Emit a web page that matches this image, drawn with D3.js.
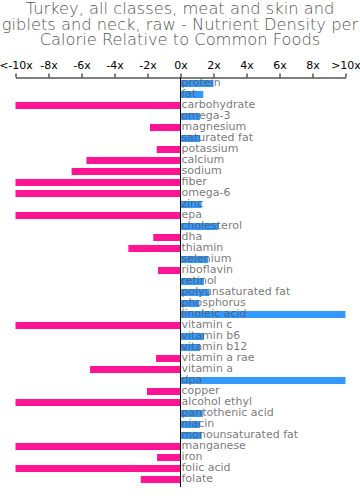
<!DOCTYPE html>
<html>
<head>
<meta charset="utf-8">
<script src="https://cdn.jsdelivr.net/npm/d3@7"></script>
<style>
  body { margin: 0; background: #fff; }
  svg { font-family: "DejaVu Sans", sans-serif; }
</style>
</head>
<body>
<script>
'use strict';

// nutrient names, top to bottom
const nutrients = ["protein", "fat", "carbohydrate", "omega-3", "magnesium", "saturated fat",
  "potassium", "calcium", "sodium", "fiber", "omega-6", "zinc", "epa", "cholesterol", "dha",
  "thiamin", "selenium", "riboflavin", "retinol", "polyunsaturated fat", "phosphorus",
  "linoleic acid", "vitamin c", "vitamin b6", "vitamin b12", "vitamin a rae", "vitamin a",
  "dpa", "copper", "alcohol ethyl", "pantothenic acid", "niacin", "monounsaturated fat",
  "manganese", "iron", "folic acid", "folate"];

// relative density (x), clipped at +-10
const density = [2.0, 1.38, -10, 1.18, -1.85, 1.18,
  -1.44, -5.7, -6.6, -10, -10, 1.28, -10, 2.3, -1.65,
  -3.16, 1.68, -1.36, 1.42, 1.75, 1.14,
  10, -10, 1.42, 1.18, -1.48, -5.48,
  10, -2.03, -10, 1.35, 1.18, 1.28,
  -10, -1.42, -10, -2.41];

const tickValues = [-10, -8, -6, -4, -2, 0, 2, 4, 6, 8, 10];
const tickLabels = ["<-10x", "-8x", "-6x", "-4x", "-2x", "0x", "2x", "4x", "6x", "8x", ">10x"];

const titleLines = ["Turkey, all classes, meat and skin and",
  "giblets and neck, raw - Nutrient Density per",
  "Calorie Relative to Common Foods"];

const width = 360, height = 498;

let svg = d3.select('body').append('svg')
  .attr('width', width)
  .attr('height', height);

// title
svg.append('g').selectAll('text')
  .data(titleLines)
  .enter()
  .append('text')
    .attr('x', width / 2)
    .attr('y', (d, i) => 14 + i * 15.5)
    .attr('text-anchor', 'middle')
    .style('font-size', '16.3px')
    .style('font-weight', 200)
    .style('fill', '#555')
    .text(d => d);

let xScale = d3.scaleLinear()
  .domain([-10, 10])
  .range([15.5, 345.5]);

let yScale = d3.scaleBand()
  .domain(nutrients)
  .range([78, 485])
  .paddingInner(0.36)
  .paddingOuter(0.18);

// axis on top
let xAxis = d3.axisTop(xScale)
  .tickValues(tickValues)
  .tickFormat((d, i) => tickLabels[i])
  .tickSize(4)
  .tickSizeOuter(0)
  .tickPadding(5);

let axisG = svg.append('g')
  .attr('transform', 'translate(0, 77.5)')
  .call(xAxis);
axisG.select('.domain').attr('stroke', '#000');
axisG.selectAll('.tick line').attr('stroke', '#000');
axisG.selectAll('.tick text')
  .style('font-size', '11px')
  .style('font-family', '"DejaVu Sans", sans-serif')
  .style('fill', '#000');

let rows = nutrients.map((n, i) => ({ name: n, value: density[i] }));

// bars
svg.append('g').selectAll('rect')
  .data(rows)
  .enter()
  .append('rect')
    .attr('x', d => xScale(Math.min(0, d.value)))
    .attr('y', d => yScale(d.name))
    .attr('width', d => Math.abs(xScale(d.value) - xScale(0)))
    .attr('height', yScale.bandwidth())
    .attr('fill', d => d.value < 0 ? '#ff1493' : '#3399ff');

// zero line
svg.append('line')
  .attr('x1', xScale(0)).attr('x2', xScale(0))
  .attr('y1', 77.5).attr('y2', 487)
  .attr('stroke', '#000')
  .attr('stroke-width', 1);

// labels
svg.append('g').selectAll('text')
  .data(rows)
  .enter()
  .append('text')
    .attr('x', xScale(0) + 1)
    .attr('y', d => yScale(d.name) + 6.5)
    .style('font-size', '11px')
    .style('fill', '#555')
    .style('fill-opacity', 0.8)
    .text(d => d.name);
</script>
</body>
</html>
